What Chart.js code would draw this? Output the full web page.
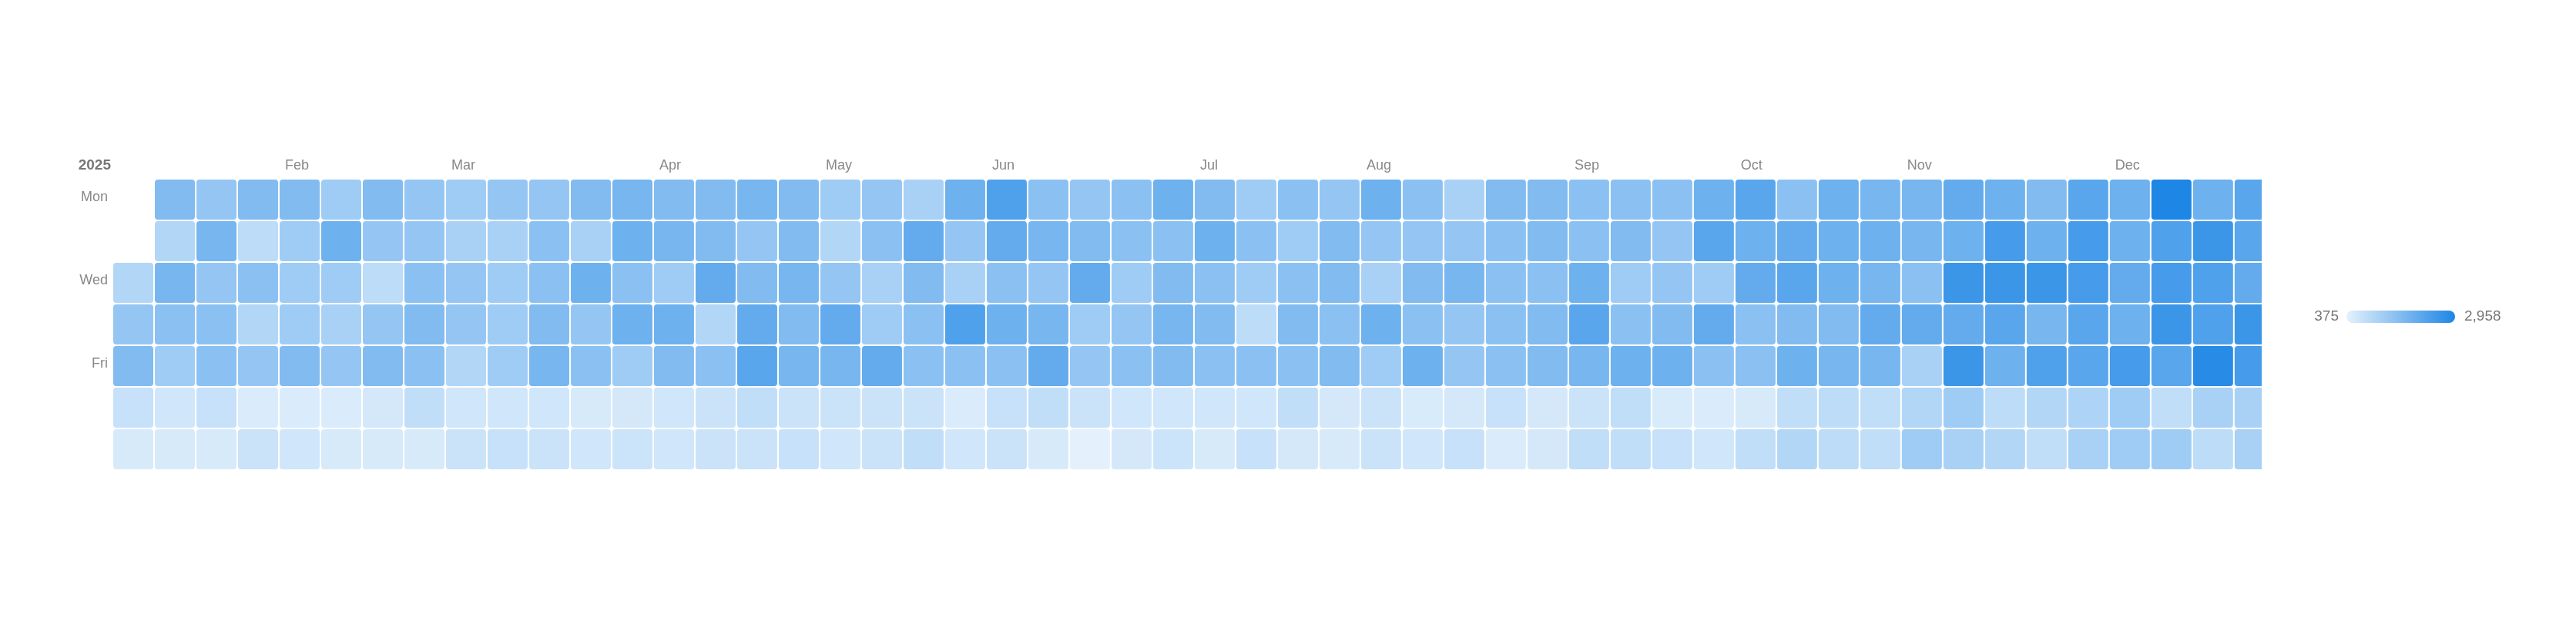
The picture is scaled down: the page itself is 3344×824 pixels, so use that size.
<!DOCTYPE html>
<html><head><meta charset="utf-8">
<script src="https://cdn.jsdelivr.net/npm/chart.js@4.4.1/dist/chart.umd.min.js"></script>
<style>html,body{margin:0;background:#fff}#wrap{width:3344px;height:824px}</style>
</head><body><div id="wrap"><canvas id="c"></canvas></div>
<script>
const year = '2025';
const dayLabels = ['Mon','','Wed','','Fri','',''];
const monthLabels = ['Feb','Mar','Apr','May','Jun','Jul','Aug','Sep','Oct','Nov','Dec'];
const monthWeeks = [4,8,13,17,21,26,30,35,39,43,48];
const mon = [null,1667,1408,1667,1667,1279,1667,1408,1279,1408,1408,1667,1796,1667,1667,1796,1667,1279,1408,1150,1925,2312,1537,1408,1537,1925,1667,1279,1537,1408,1925,1537,1150,1667,1667,1537,1537,1537,1925,2183,1537,1925,1796,1796,2054,1925,1667,2183,1925,2958,1925,2183,1925];
const tue = [null,1021,1796,892,1279,1925,1408,1408,1150,1150,1537,1150,1925,1796,1667,1408,1667,1021,1537,2054,1408,2054,1796,1667,1537,1537,1925,1537,1279,1667,1408,1408,1408,1537,1667,1537,1667,1408,2183,1925,2054,1925,1925,1796,1925,2441,1925,2441,1925,2312,2571,2183,1925];
const wed = [1021,1796,1408,1537,1279,1279,892,1537,1408,1279,1537,1925,1537,1279,2054,1667,1796,1408,1150,1667,1150,1537,1408,2054,1279,1667,1537,1279,1537,1667,1150,1667,1796,1537,1537,1925,1279,1408,1279,2054,2183,1925,1796,1537,2571,2571,2571,2441,2054,2441,2312,2054,1925];
const thu = [1408,1537,1537,1021,1279,1150,1408,1667,1408,1279,1667,1408,1925,1925,1021,2054,1667,2054,1279,1537,2312,1925,1796,1279,1408,1796,1667,892,1667,1537,1925,1537,1408,1537,1667,2183,1537,1667,2054,1537,1667,1667,2054,2054,2054,2183,1796,2183,1925,2571,2312,2571,null];
const fri = [1667,1279,1537,1408,1667,1408,1667,1537,1021,1279,1796,1537,1279,1667,1537,2183,1796,1796,2054,1537,1537,1537,2054,1408,1537,1667,1537,1537,1537,1667,1279,1925,1408,1537,1667,1796,1925,1925,1537,1537,1925,1796,1796,1150,2571,1925,2312,2183,2441,2183,2829,2441,null];
const sat = [762,633,762,504,504,504,582,840,633,633,633,556,582,633,711,840,711,711,711,711,504,762,840,711,633,633,633,633,840,582,711,530,582,762,582,711,840,530,504,556,840,892,840,1021,1279,892,1021,1098,1279,840,1150,1150,null];
const sun = [556,556,556,711,633,556,556,556,711,762,711,633,685,633,711,711,762,633,711,840,633,711,556,375,582,685,556,762,582,556,711,633,762,504,582,840,840,762,633,840,1021,892,840,1279,1150,1021,840,1150,1279,1279,892,1150,null];
const rows = [mon,tue,wed,thu,fri,sat,sun];

const all = rows.flat().filter(v=>v!=null);
const vmin = Math.min(...all), vmax = Math.max(...all);
const c0=[228,241,252], c1=[30,134,229];
function col(v){const t=(v-vmin)/(vmax-vmin);return 'rgb('+c0.map((a,i)=>Math.round(a+(c1[i]-a)*t)).join(',')+')';}

const pts=[];
rows.forEach((r,ri)=>r.forEach((v,w)=>{if(v!=null)pts.push({x:w,y:ri,v});}));

function rr(ctx,x,y,w,h,r){ctx.beginPath();ctx.moveTo(x+r,y);ctx.arcTo(x+w,y,x+w,y+h,r);ctx.arcTo(x+w,y+h,x,y+h,r);ctx.arcTo(x,y+h,x,y,r);ctx.arcTo(x,y,x+w,y,r);ctx.closePath();}

const cal = {id:'cal',afterDatasetsDraw(chart){
  const {ctx,chartArea:a,scales:{x,y}}=chart;
  const pw=x.getPixelForValue(1)-x.getPixelForValue(0), ph=Math.abs(y.getPixelForValue(1)-y.getPixelForValue(0));
  ctx.save();ctx.beginPath();ctx.rect(a.left,a.top,a.right-a.left,a.bottom-a.top);ctx.clip();
  chart.data.datasets[0].data.forEach(p=>{
    const cx=x.getPixelForValue(p.x), cy=y.getPixelForValue(p.y);
    ctx.fillStyle=col(p.v);rr(ctx,cx-pw/2+1,cy-ph/2+1,pw-2,ph-2,4);ctx.fill();
  });
  ctx.restore();
  ctx.save();
  ctx.fillStyle='#888';ctx.font='18px "Liberation Sans", Arial';ctx.textBaseline='middle';
  monthLabels.forEach((m,i)=>{ctx.textAlign='left';ctx.fillText(m,x.getPixelForValue(monthWeeks[i]-0.5)+8,a.top-17);});
  ctx.textAlign='right';
  dayLabels.forEach((d,i)=>{if(d)ctx.fillText(d,a.left-6,y.getPixelForValue(i)-3);});
  ctx.font='bold 19px "Liberation Sans", Arial';ctx.fillStyle='#777';
  ctx.fillText(year,a.left-2,a.top-17);
  // visual map legend
  const lx=3046,lw=141,ly=403,lh=16;
  const g=ctx.createLinearGradient(lx,0,lx+lw,0);g.addColorStop(0,col(vmin));g.addColorStop(1,col(vmax));
  ctx.fillStyle=g;rr(ctx,lx,ly,lw,lh,8);ctx.fill();
  ctx.font='19px "Liberation Sans", Arial';ctx.fillStyle='#777';
  ctx.textAlign='right';ctx.fillText(vmin.toLocaleString('en-US'),lx-10,ly+lh/2);
  ctx.textAlign='left';ctx.fillText(vmax.toLocaleString('en-US'),lx+lw+12,ly+lh/2);
  ctx.restore();
}};

new Chart(document.getElementById('c'),{
  type:'scatter',
  data:{datasets:[{data:pts,pointRadius:0,pointHoverRadius:0}]},
  options:{responsive:true,maintainAspectRatio:false,animation:false,devicePixelRatio:1,
    layout:{padding:{left:146,right:408,top:232,bottom:214}},
    plugins:{legend:{display:false},tooltip:{enabled:false}},
    scales:{x:{type:'linear',min:-0.5,max:51.17,display:false},
            y:{type:'linear',min:-0.5,max:6.5,reverse:true,display:false}}},
  plugins:[cal]
});
</script></body></html>
